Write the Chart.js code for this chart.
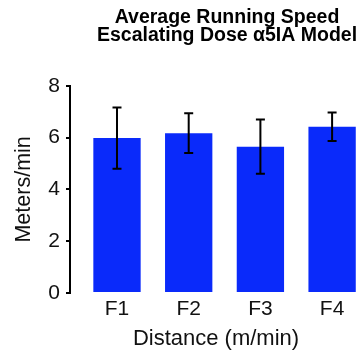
<!DOCTYPE html>
<html>
<head>
<meta charset="utf-8">
<script src="https://cdn.jsdelivr.net/npm/chart.js@4/dist/chart.umd.min.js"></script>
<style>
  html, body { margin: 0; padding: 0; background: #fff; overflow: hidden; }
  #wrap { position: relative; width: 454px; height: 356px; }
</style>
</head>
<body>
<div id="wrap"><canvas id="c" width="454" height="356"></canvas></div>
<script>
// Average running speed per distance condition (mean ± error)
const categories = ['F1', 'F2', 'F3', 'F4'];
const speedMeans = [5.98, 6.17, 5.65, 6.42];
const speedErrors = [1.18, 0.77, 1.05, 0.55];
const yTicks = [0, 2, 4, 6, 8];

const FONT = '"Liberation Sans", Arial, Helvetica, sans-serif';

// Vertical error bars drawn through the chart's own scales
const errorBars = {
  id: 'errorBars',
  afterDatasetsDraw(chart) {
    const { ctx, scales: { x, y } } = chart;
    ctx.save();
    ctx.strokeStyle = '#000';
    ctx.lineWidth = 2;
    speedMeans.forEach((m, i) => {
      const px = x.getPixelForValue(i + 1);
      const top = y.getPixelForValue(m + speedErrors[i]);
      const bot = y.getPixelForValue(m - speedErrors[i]);
      ctx.beginPath();
      ctx.moveTo(px, top); ctx.lineTo(px, bot);
      ctx.moveTo(px - 4.5, top); ctx.lineTo(px + 4.5, top);
      ctx.moveTo(px - 4.5, bot); ctx.lineTo(px + 4.5, bot);
      ctx.stroke();
    });
    ctx.restore();
  }
};

new Chart(document.getElementById('c'), {
  type: 'bar',
  data: {
    datasets: [{
      data: categories.map((c, i) => ({ x: i + 1, y: speedMeans[i] })),
      backgroundColor: '#0a2afa',
      borderWidth: 0,
      barPercentage: 0.66,
      categoryPercentage: 1.0
    }]
  },
  options: {
    responsive: false,
    animation: false,
    layout: { padding: 0 },
    plugins: {
      legend: { display: false },
      tooltip: { enabled: false },
      title: {
        display: true,
        text: ['Average Running Speed', 'Escalating Dose \u03b15IA Model'],
        color: '#000',
        font: { family: FONT, size: 19.5, weight: 'bold', lineHeight: 0.925 },
        padding: { top: 9, bottom: 40.7 }
      }
    },
    scales: {
      x: {
        type: 'linear',
        min: 0.3445,
        max: 4.417,
        offset: false,
        afterBuildTicks: (s) => { s.ticks = categories.map((c, i) => ({ value: i + 1 })); },
        ticks: {
          callback: (v) => categories[v - 1],
          color: '#111',
          font: { family: FONT, size: 21 },
          padding: 4,
          maxRotation: 0
        },
        grid: { display: false, drawTicks: false },
        border: { display: false },
        title: {
          display: true,
          text: 'Distance (m/min)',
          color: '#111',
          font: { family: FONT, size: 22 },
          padding: { top: 2, bottom: 4 }
        },
        afterFit: (s) => { s.height = 63; }
      },
      y: {
        min: 0,
        max: 8,
        afterBuildTicks: (s) => { s.ticks = yTicks.map(v => ({ value: v })); },
        ticks: {
          color: '#111',
          font: { family: FONT, size: 21 },
          padding: 6
        },
        grid: { drawOnChartArea: false, drawTicks: true, tickLength: 4, color: '#000', lineWidth: 2 },
        border: { display: true, color: '#000', width: 2 },
        title: {
          display: true,
          text: 'Meters/min',
          color: '#111',
          font: { family: FONT, size: 21.5 },
          padding: { top: 11, bottom: 0 }
        },
        afterFit: (s) => { s.width = 70; }
      },
      // empty right-hand band that keeps the plot narrower than the title box
      side: {
        type: 'linear',
        position: 'right',
        display: true,
        grid: { display: false },
        border: { display: false },
        ticks: { display: false },
        afterFit: (s) => { s.width = 92; }
      }
    }
  },
  plugins: [errorBars]
});
</script>
</body>
</html>
